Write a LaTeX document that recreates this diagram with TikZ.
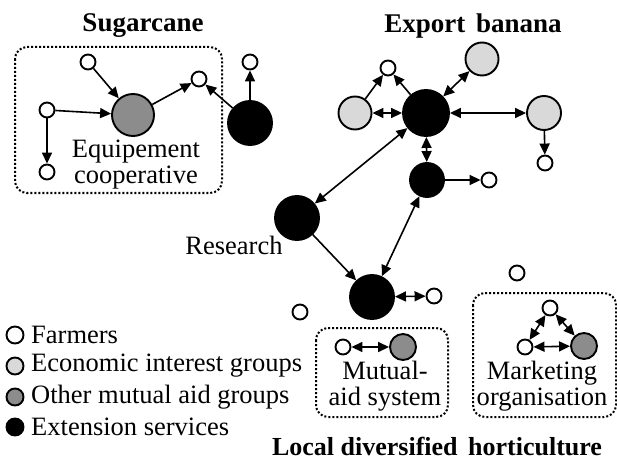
\documentclass[tikz,border=0pt]{standalone}
\usepackage{fontspec}
\setmainfont{Liberation Serif}
\usetikzlibrary{arrows.meta}
\definecolor{midgray}{RGB}{140,140,140}
\definecolor{ltgray}{RGB}{217,217,217}
\begin{document}
\begin{tikzpicture}[x=1pt,y=-1pt,
  nd/.style={circle,draw=black,line width=1.9pt,inner sep=0pt},
  fw/.style={nd,fill=white,minimum size=15pt},
  fl/.style={nd,fill=ltgray,minimum size=33pt},
  fm/.style={nd,fill=midgray},
  fb/.style={nd,fill=black},
  arr/.style={line width=1.6pt,-{Triangle[length=11pt,width=10pt]}},
  barr/.style={line width=1.6pt,{Triangle[length=11pt,width=10pt]}-{Triangle[length=11pt,width=10pt]}},
  grp/.style={draw,dotted,line width=2pt,rounded corners=12pt},
  ttl/.style={font=\fontsize{27}{27}\selectfont\bfseries,inner sep=0pt,anchor=base},
  lbl/.style={font=\fontsize{26.5}{26}\selectfont,inner sep=0pt,align=center},
  leg/.style={font=\fontsize{26.5}{26}\selectfont,inner sep=0pt,anchor=west}
]
\useasboundingbox (0,0) rectangle (617,462);

% ---------- Sugarcane ----------
\node[ttl] (tsug) at (143,32) {Sugarcane};
\draw[grp] (15,47) rectangle (222,193);
\node[fw] (s1) at (88,62) {};
\node[fm,minimum size=42pt] (sg) at (133,115) {};
\node[fw] (s2) at (47,110) {};
\node[fw] (s3) at (47,172) {};
\node[fw] (s4) at (199,79) {};
\node[fb,minimum size=44pt] (sb) at (250,123) {};
\node[fw] (s5) at (250,62) {};
\node[lbl] (teq) at (136,165) {Equipement\\cooperative};
\draw[arr] (s1) -- (sg);
\draw[arr] (s2) -- (sg);
\draw[arr] (s2) -- (s3);
\draw[arr] (sg) -- (s4);
\draw[arr] (sb) -- (s4);
\draw[arr] (sb) -- (s5);

% ---------- Export banana ----------
\node[ttl] (tban) at (473,33) {Export\hspace{4pt} banana};
\node[fb,minimum size=46pt] (h) at (426,113) {};
\node[fl] (l1) at (355,113) {};
\node[fw] (w1) at (388,68) {};
\node[fl] (l2) at (482,59) {};
\node[fl,minimum size=34pt] (l3) at (544,113) {};
\node[fw] (w2) at (545,163) {};
\node[fb,minimum size=34pt] (b2) at (427,180) {};
\node[fw] (w3) at (489,180) {};
\draw[arr] (l1) -- (w1);
\draw[arr] (h) -- (w1);
\draw[barr] (l1) -- (h);
\draw[barr] (h) -- (l2);
\draw[barr] (h) -- (l3);
\draw[arr] (l3) -- (w2);
\draw[barr] (h) -- (b2);
\draw[arr] (b2) -- (w3);

% ---------- Research and centre ----------
\node[fb,minimum size=44pt] (r) at (297,218) {};
\node[lbl] (tres) at (234,245) {Research};
\node[fb,minimum size=44pt] (b3) at (372,297) {};
\node[fw] (w4) at (434,296) {};
\node[fw] (w5) at (300,312) {};
\node[fw] (w6) at (517,273) {};
\draw[barr] (h) -- (r);
\draw[arr] (r) -- (b3);
\draw[barr] (b3) -- (b2);
\draw[barr] (b3) -- (w4);

% ---------- Local diversified horticulture ----------
\draw[grp] (316,328) rectangle (448,417);
\node[fw] (m1) at (343,347) {};
\node[fm,minimum size=26pt] (mg) at (403,347) {};
\draw[barr] (m1) -- (mg);
\node[lbl] (tmut) at (385,386) {Mutual-\\aid system};

\draw[grp] (473,293) rectangle (616,417);
\node[fw] (k1) at (550,308) {};
\node[fw] (k2) at (525,347) {};
\node[fm,minimum size=26pt] (kg) at (584,346) {};
\draw[barr] (k1) -- (k2);
\draw[barr] (k1) -- (kg);
\draw[barr] (k2) -- (kg);
\node[lbl] (tmar) at (542,386) {Marketing\\organisation};

\node[ttl,font=\fontsize{26}{26}\selectfont\bfseries] (tloc) at (437,455) {Local diversified\hspace{4pt} horticulture};

% ---------- Legend ----------
\node[fw,minimum size=17pt] (c1) at (15,335) {};
\node[nd,fill=ltgray,minimum size=17pt] (c2) at (15,366) {};
\node[fm,minimum size=17pt] (c3) at (15,397) {};
\node[fb,minimum size=17pt] (c4) at (15,427) {};
\node[leg] (e1) at (31,335) {Farmers};
\node[leg] (e2) at (31,366) {Economic interest groups};
\node[leg] (e3) at (31,397) {Other mutual aid groups};
\node[leg] (e4) at (31,427) {Extension services};
\end{tikzpicture}
\end{document}
